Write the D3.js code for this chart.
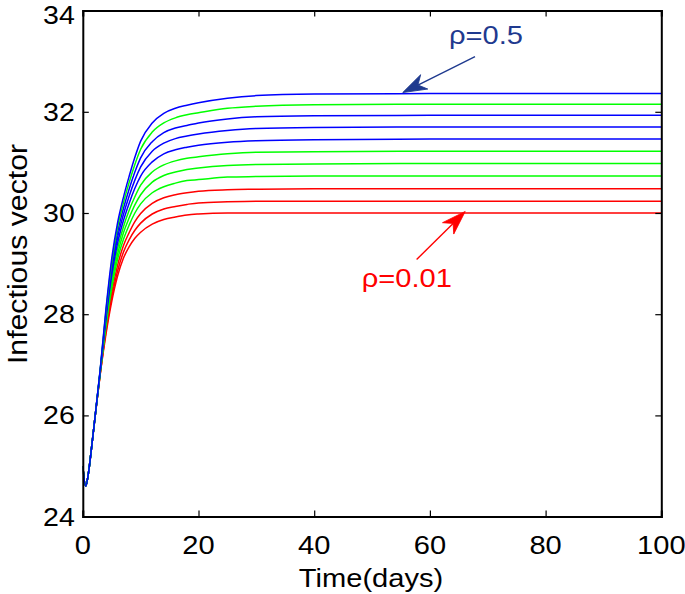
<!DOCTYPE html>
<html>
<head>
<meta charset="utf-8">
<script src="https://cdn.jsdelivr.net/npm/d3@7"></script>
<style>
  html, body { margin: 0; padding: 0; background: #fff; }
  svg { display: block; }
  text { font-family: "Liberation Sans", Arial, Helvetica, sans-serif; }
</style>
</head>
<body>
<svg id="chart" width="685" height="594"></svg>
<script>
// ---- data ----
const times = [0, 0.5, 1, 1.5, 2, 3, 4, 5, 6, 7, 8, 9, 10, 12, 14, 16, 18, 20, 25, 30, 40, 60, 100];

const blue1  = [25, 24.6, 24.88, 25.35, 25.85, 26.90, 28.10, 29.10, 29.80, 30.30, 30.72, 31.10, 31.42, 31.78, 31.97, 32.07, 32.13, 32.18, 32.27, 32.32, 32.35, 32.36, 32.36];
const green1 = [25, 24.6, 24.88, 25.35, 25.85, 26.89, 28.06, 29.02, 29.71, 30.19, 30.60, 30.96, 31.26, 31.60, 31.78, 31.88, 31.94, 31.98, 32.07, 32.11, 32.14, 32.15, 32.15];
const blue2  = [25, 24.6, 24.88, 25.35, 25.85, 26.88, 28.01, 28.94, 29.61, 30.08, 30.47, 30.81, 31.09, 31.41, 31.59, 31.68, 31.73, 31.78, 31.86, 31.90, 31.92, 31.93, 31.93];
const blue3  = [25, 24.6, 24.88, 25.35, 25.85, 26.87, 27.96, 28.86, 29.51, 29.96, 30.33, 30.65, 30.91, 31.22, 31.38, 31.47, 31.52, 31.56, 31.63, 31.67, 31.69, 31.70, 31.70];
const blue4  = [25, 24.6, 24.88, 25.35, 25.85, 26.86, 27.91, 28.77, 29.40, 29.84, 30.19, 30.49, 30.73, 31.01, 31.17, 31.25, 31.30, 31.34, 31.40, 31.43, 31.45, 31.46, 31.46];
const green2 = [25, 24.6, 24.88, 25.35, 25.85, 26.85, 27.86, 28.69, 29.29, 29.72, 30.05, 30.32, 30.55, 30.81, 30.95, 31.03, 31.08, 31.11, 31.17, 31.20, 31.21, 31.22, 31.22];
const green3 = [25, 24.6, 24.88, 25.35, 25.85, 26.84, 27.81, 28.60, 29.18, 29.60, 29.90, 30.16, 30.36, 30.61, 30.74, 30.81, 30.86, 30.89, 30.94, 30.96, 30.97, 30.98, 30.98];
const green4 = [25, 24.6, 24.88, 25.35, 25.85, 26.83, 27.76, 28.51, 29.08, 29.47, 29.76, 30.00, 30.18, 30.40, 30.52, 30.59, 30.64, 30.66, 30.71, 30.72, 30.73, 30.73, 30.73];
const red1   = [25, 24.6, 24.88, 25.35, 25.85, 26.82, 27.70, 28.42, 28.96, 29.35, 29.61, 29.83, 29.99, 30.19, 30.30, 30.36, 30.40, 30.43, 30.46, 30.47, 30.48, 30.48, 30.48];
const red2   = [25, 24.6, 24.88, 25.35, 25.85, 26.81, 27.65, 28.33, 28.85, 29.22, 29.47, 29.66, 29.80, 29.98, 30.08, 30.13, 30.17, 30.20, 30.22, 30.23, 30.23, 30.23, 30.23];
const red3   = [25, 24.6, 24.88, 25.35, 25.85, 26.80, 27.60, 28.25, 28.75, 29.10, 29.33, 29.50, 29.62, 29.78, 29.87, 29.92, 29.96, 29.98, 30.00, 30.00, 30.00, 30.00, 30.00];

// drawn bottom-up so the upper (blue) curves sit on top
const seriesNames  = ["red3", "red2", "red1", "green4", "green3", "green2", "blue4", "blue3", "blue2", "green1", "blue1"];
const seriesValues = [red3, red2, red1, green4, green3, green2, blue4, blue3, blue2, green1, blue1];
const seriesColors = ["#ff0000", "#ff0000", "#ff0000", "#00ff00", "#00ff00", "#00ff00", "#0000ff", "#0000ff", "#0000ff", "#00ff00", "#0000ff"];

const xTicks = [0, 20, 40, 60, 80, 100];
const yTicks = [24, 26, 28, 30, 32, 34];
const xLabel = "Time(days)";
const yLabel = "Infectious vector";

// annotations: label, text anchor (t, v), arrow tail (t, v), arrow tip (t, v)
const annoHigh = { label: "ρ=0.5",  text: [63.3, 33.34], tail: [67.8, 33.09], tip: [55.3, 32.38] };
const annoLow  = { label: "ρ=0.01", text: [48.2, 28.53], tail: [57.7, 29.08], tip: [66.1, 30.03] };
const annoHighColor = "#1f3a8f";
const annoLowColor  = "#ff0000";

// ---- layout ----
const plot = { left: 82.8, right: 661.3, top: 10.6, bottom: 516.6 };
const svg = d3.select("#chart");

const x = d3.scaleLinear().domain([0, 100]).range([plot.left, plot.right]);
const y = d3.scaleLinear().domain([24, 34]).range([plot.bottom, plot.top]);

svg.append("clipPath").attr("id", "clip")
  .append("rect").attr("x", plot.left).attr("y", plot.top)
  .attr("width", plot.right - plot.left).attr("height", plot.bottom - plot.top);

// curves
const line = d3.line().x(d => x(d[0])).y(d => y(d[1])).curve(d3.curveMonotoneX);
const gLines = svg.append("g").attr("clip-path", "url(#clip)");
seriesValues.forEach((vals, i) => {
  gLines.append("path")
    .datum(times.map((t, j) => [t, vals[j]]))
    .attr("d", line)
    .attr("fill", "none")
    .attr("stroke", seriesColors[i])
    .attr("stroke-width", 1.5)
    .attr("stroke-linejoin", "round");
});

// axes (MATLAB-like box with inward ticks)
const tickLen = 6;
const fs = 26, sx = 1.12;
function stretchedText(g, tx, ty, str, anchor, size, color) {
  return g.append("text")
    .attr("transform", `translate(${tx},${ty}) scale(${sx},1)`)
    .attr("text-anchor", anchor)
    .attr("font-size", size)
    .attr("fill", color || "#000")
    .text(str);
}

const axB = svg.append("g").attr("transform", `translate(0,${plot.bottom})`)
  .call(d3.axisBottom(x).tickValues(xTicks).tickSize(-tickLen).tickFormat(""));
const axT = svg.append("g").attr("transform", `translate(0,${plot.top})`)
  .call(d3.axisTop(x).tickValues(xTicks).tickSize(-tickLen).tickFormat(""));
const axL = svg.append("g").attr("transform", `translate(${plot.left},0)`)
  .call(d3.axisLeft(y).tickValues(yTicks).tickSize(-tickLen).tickFormat(""));
const axR = svg.append("g").attr("transform", `translate(${plot.right},0)`)
  .call(d3.axisRight(y).tickValues(yTicks).tickSize(-tickLen).tickFormat(""));
[axB, axT, axL, axR].forEach(a => {
  a.selectAll(".domain").attr("stroke", "#000").attr("stroke-width", 2);
  a.selectAll(".tick line").attr("stroke", "#000").attr("stroke-width", 1.2);
});

// tick labels
const gLab = svg.append("g");
xTicks.forEach(v => stretchedText(gLab, x(v), 554, String(v), "middle", fs));
yTicks.forEach(v => stretchedText(gLab, plot.left - 8, Math.max(y(v) + 9, 23.5), String(v), "end", 25.5));

// axis titles
stretchedText(gLab, (plot.left + plot.right) / 2 - 1, 587, xLabel, "middle", fs);
gLab.append("text")
  .attr("transform", `translate(27,254) rotate(-90) scale(1.12,1)`)
  .attr("text-anchor", "middle")
  .attr("font-size", 27)
  .text(yLabel);

// annotations
function arrow(a, color) {
  const x0 = x(a.tail[0]), y0 = y(a.tail[1]), x1 = x(a.tip[0]), y1 = y(a.tip[1]);
  const ang = Math.atan2(y1 - y0, x1 - x0);
  const L = 24, Wd = 8, notch = 17;
  const len = Math.hypot(x1 - x0, y1 - y0);
  const g = svg.append("g");
  g.append("line")
    .attr("x1", x0).attr("y1", y0)
    .attr("x2", x0 + (len - notch) * Math.cos(ang)).attr("y2", y0 + (len - notch) * Math.sin(ang))
    .attr("stroke", color).attr("stroke-width", 1.4);
  const head = [[0, 0], [-L, -Wd], [-notch, 0], [-L, Wd]];
  g.append("path")
    .attr("d", "M" + head.map(p => p.join(",")).join("L") + "Z")
    .attr("transform", `translate(${x1},${y1}) rotate(${ang * 180 / Math.PI})`)
    .attr("fill", color).attr("stroke", color).attr("stroke-width", 0.8);
}
arrow(annoHigh, annoHighColor);
arrow(annoLow, annoLowColor);
stretchedText(svg, x(annoHigh.text[0]), y(annoHigh.text[1]), annoHigh.label, "start", fs, annoHighColor);
stretchedText(svg, x(annoLow.text[0]), y(annoLow.text[1]), annoLow.label, "start", fs, annoLowColor);
</script>
</body>
</html>
